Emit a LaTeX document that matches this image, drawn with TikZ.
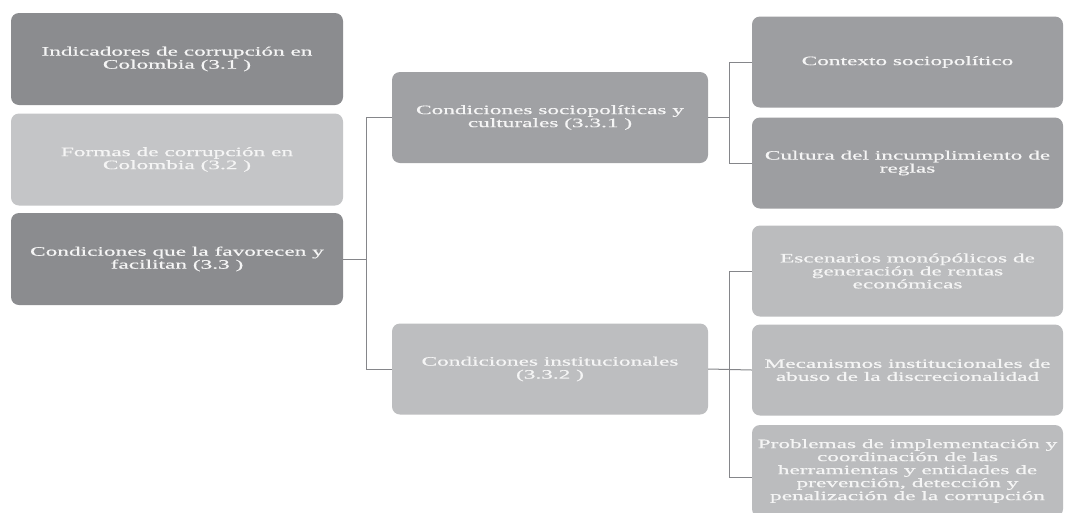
\documentclass[tikz,border=0pt]{standalone}
\usepackage{fontspec}
\setmainfont[FakeStretch=1.82,FakeBold=0.6]{Liberation Serif}
\definecolor{boxdark}{HTML}{8B8C8F}
\definecolor{boxlight}{HTML}{C4C5C7}
\definecolor{boxmid}{HTML}{A0A1A4}
\definecolor{boxmidlight}{HTML}{BDBEC0}
\definecolor{boxright}{HTML}{9D9EA1}
\definecolor{boxrightlight}{HTML}{BBBCBE}
\definecolor{connc}{HTML}{85868A}
\definecolor{txt}{HTML}{F5F5F5}
\begin{document}
\begin{tikzpicture}[x=1pt,y=-1pt,
  box/.style={rounded corners=8pt, inner sep=0pt, text=txt, align=center,
    font=\fontsize{12.8}{13}\selectfont},
  leftbox/.style={box, minimum width=332pt, minimum height=92pt},
  midbox/.style={box, minimum width=316pt, minimum height=91pt},
  rightbox/.style={box, minimum width=311pt, minimum height=91pt},
  conn/.style={draw=connc, line width=1pt}]
\useasboundingbox (0,0) rectangle (1065,512);
\fill[white] (0,0) rectangle (1065,512);
\clip (0,0) rectangle (1065,512);

% left column
\node[leftbox, fill=boxdark] (L1) at (177,59) {Indicadores de corrupción en\\Colombia (3.1 )};
\node[leftbox, fill=boxlight] (L2) at (177,159.5) {Formas de corrupción en\\Colombia (3.2 )};
\node[leftbox, fill=boxdark] (L3) at (177,259) {Condiciones que la favorecen y\\facilitan (3.3 )};

% middle column
\node[midbox, fill=boxmid] (M1) at (550,117.5) {Condiciones sociopolíticas y\\culturales (3.3.1 )};
\node[midbox, fill=boxmidlight] (M2) at (550,369) {Condiciones institucionales\\(3.3.2 )};

% right column
\node[rightbox, fill=boxright] (R1) at (907.5,62) {Contexto sociopolítico};
\node[rightbox, fill=boxright] (R2) at (907.5,163) {Cultura del incumplimiento de\\reglas};
\node[rightbox, fill=boxrightlight] (R3) at (907.5,271) {Escenarios monópólicos de\\generación de rentas\\económicas};
\node[rightbox, fill=boxrightlight] (R4) at (907.5,370) {Mecanismos institucionales de\\abuso de la discrecionalidad};
\node[rightbox, fill=boxrightlight, minimum height=92pt] (R5) at (907.5,471) {Problemas de implementación y\\coordinación de las\\herramientas y entidades de\\prevención, detección y\\penalización de la corrupción};

% trunks
\coordinate (t1) at (366,0);
\coordinate (t2) at (729.5,0);

% connectors
\draw[conn] (L3.east) -- (L3.east -| t1);
\draw[conn] (M1.west) -- (M1.west -| t1) -- (M2.west -| t1) -- (M2.west);

\draw[conn] (M1.east) -- (M1.east -| t2);
\draw[conn] (R1.west) -- (R1.west -| t2) -- (R2.west -| t2) -- (R2.west);

\draw[conn] (M2.east) -- (R4.west);
\draw[conn] (R3.west) -- (R3.west -| t2) -- ([yshift=-6pt]R5.west -| t2) -- ([yshift=-6pt]R5.west);
\end{tikzpicture}
\end{document}
